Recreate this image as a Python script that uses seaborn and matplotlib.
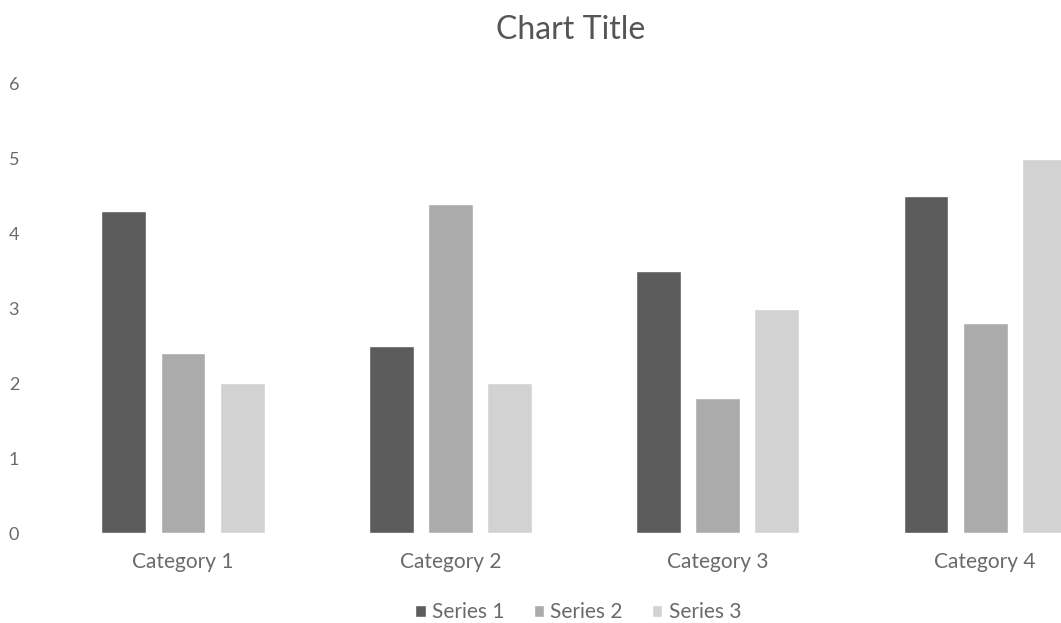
import matplotlib.pyplot as plt
import pandas as pd
import seaborn as sns

categories = ["Category 1", "Category 2", "Category 3", "Category 4"]
series_names = ["Series 1", "Series 2", "Series 3"]
series_1 = [4.3, 2.5, 3.5, 4.5]
series_2 = [2.4, 4.4, 1.8, 2.8]
series_3 = [2.0, 2.0, 3.0, 5.0]
y_ticks = [0, 1, 2, 3, 4, 5, 6]

colors = ["#5c5c5c", "#ababab", "#d2d2d2"]
text_color = "#6a6a6a"

rows = []
for name, vals in zip(series_names, [series_1, series_2, series_3]):
    for cat, v in zip(categories, vals):
        rows.append({"category": cat, "series": name, "value": v})
df = pd.DataFrame(rows)

sns.set_style("white")
plt.rcParams["font.family"] = ["Lato", "DejaVu Sans"]

fig = plt.figure(figsize=(10.61, 6.23), dpi=100)
ax = fig.add_axes([40 / 1061, 90 / 623, 1021 / 1061, 449 / 623])

sns.barplot(
    data=df, x="category", y="value", hue="series",
    order=categories, hue_order=series_names,
    palette=dict(zip(series_names, colors)),
    width=0.663, gap=0.24, saturation=1, ax=ax, legend=True,
)

ax.set_xlim(-0.535, 3.284)
ax.set_ylim(0, 6)
ax.set_yticks(y_ticks)
ax.set_xlabel("")
ax.set_ylabel("")
ax.tick_params(axis="y", length=0, labelsize=13, colors=text_color, pad=15)
ax.tick_params(axis="x", length=0, labelsize=15, colors=text_color, pad=14)
sns.despine(ax=ax, left=True, bottom=True)

handles, labels = ax.get_legend_handles_labels()
ax.get_legend().remove()
fig.legend(handles, labels, loc="center", bbox_to_anchor=(0.545, 1 - 612 / 623),
           ncol=3, frameon=False, fontsize=15, labelcolor=text_color,
           handlelength=0.5, handleheight=0.5, handletextpad=0.3, columnspacing=1.4)

fig.text(0.538, 1 - 30 / 623, "Chart Title", ha="center", va="center",
         fontsize=23, color="#555555")

fig.savefig("out.png", dpi=100)
